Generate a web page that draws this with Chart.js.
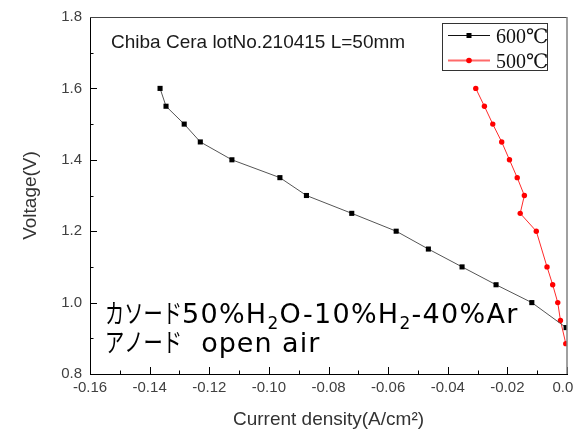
<!DOCTYPE html>
<html>
<head>
<meta charset="utf-8">
<script src="https://cdn.jsdelivr.net/npm/chart.js@4"></script>
<style>
  html, body { margin: 0; padding: 0; overflow: hidden; background: #fff; width: 573px; height: 434px; }
  #wrap { width: 600px; height: 434px; }
</style>
</head>
<body>
<div id="wrap"><canvas id="c" width="600" height="434"></canvas></div>
<script>
// ---- data ----
const current600 = [-0.1365, -0.1345, -0.1284, -0.1230, -0.1124, -0.0963, -0.0874, -0.0722, -0.0573, -0.0465, -0.0352, -0.0238, -0.0118, -0.0003];
const voltage600 = [1.60, 1.55, 1.50, 1.45, 1.40, 1.35, 1.30, 1.25, 1.20, 1.15, 1.10, 1.05, 1.00, 0.93];
const current500 = [-0.0306, -0.0277, -0.0249, -0.0219, -0.0193, -0.0167, -0.0143, -0.0157, -0.0103, -0.0067, -0.0048, -0.0031, -0.0022, -0.0004];
const voltage500 = [1.60, 1.55, 1.50, 1.45, 1.40, 1.35, 1.30, 1.25, 1.20, 1.10, 1.05, 1.00, 0.95, 0.885];
const seriesLabels = ['600℃', '500℃'];
const xTitle = 'Current density(A/cm²)';
const yTitle = 'Voltage(V)';
const noteTop = 'Chiba Cera lotNo.210415 L=50mm';

const SANS = "'Liberation Sans', Arial, sans-serif";
const LATIN = "'DejaVu Sans', Verdana, sans-serif";
const CJK = "'Noto Sans CJK JP', sans-serif";
const SERIF = "'Liberation Serif', 'DejaVu Serif', 'Noto Sans CJK JP', serif";

Chart.defaults.font.family = SANS;
Chart.defaults.color = '#404040';

function pts(xs, ys) { return xs.map((x, i) => ({ x: x, y: ys[i] })); }

// draw inward tick marks, top/right frame
const frame = {
  id: 'frame',
  afterDatasetsDraw(chart) {
    const { ctx, chartArea: a, scales: { x, y } } = chart;
    ctx.save();
    ctx.lineWidth = 1;
    ctx.strokeStyle = '#000';
    ctx.beginPath();
    x.ticks.forEach(t => {
      const px = Math.round(x.getPixelForValue(t.value)) + 0.5;
      const major = Math.round(t.value * 100) % 2 === 0;
      ctx.moveTo(px, a.bottom);
      ctx.lineTo(px, a.bottom - (major ? 7 : 3.5));
    });
    y.ticks.forEach(t => {
      const py = Math.round(y.getPixelForValue(t.value)) + 0.5;
      const major = Math.round(t.value * 10) % 2 === 0;
      ctx.moveTo(a.left, py);
      ctx.lineTo(a.left + (major ? 7 : 3.5), py);
    });
    ctx.stroke();
    // top & right frame
    ctx.strokeStyle = '#444';
    ctx.beginPath();
    ctx.moveTo(a.left, Math.round(a.top) + 0.5);
    ctx.lineTo(a.right, Math.round(a.top) + 0.5);
    ctx.stroke();
    ctx.strokeStyle = '#808080';
    ctx.lineWidth = 1.5;
    ctx.beginPath();
    ctx.moveTo(a.right, a.top);
    ctx.lineTo(a.right, a.bottom);
    ctx.stroke();
    ctx.restore();
  }
};

function drawRich(ctx, x, y, segs) {
  segs.forEach(s => {
    ctx.save();
    ctx.font = s.font;
    ctx.letterSpacing = s.ls || '0px';
    const w = ctx.measureText(s.t).width * (s.sx || 1);
    ctx.translate(x, y + (s.dy || 0));
    ctx.scale(s.sx || 1, 1);
    ctx.fillText(s.t, 0, 0);
    ctx.restore();
    x += w + (s.gap || 0);
  });
}

// annotations + legend
const notes = {
  id: 'notes',
  afterDraw(chart) {
    const { ctx } = chart;
    const ds = chart.data.datasets;
    ctx.save();
    ctx.textBaseline = 'alphabetic';
    ctx.textAlign = 'left';
    ctx.fillStyle = '#1a1a1a';
    ctx.font = '19px ' + SANS;
    ctx.fillText(noteTop, 111, 47.5);

    const L = '27px ' + LATIN, K = '26px ' + CJK, S = '17px ' + LATIN;
    const ls = '1.3px';
    ctx.fillStyle = '#000';
    drawRich(ctx, 105, 323, [
      { t: 'カソード', font: K, sx: 0.74 },
      { t: '50%H', font: L, ls: ls },
      { t: '2', font: S, dy: 6, ls: ls },
      { t: 'O-10%H', font: L, ls: ls },
      { t: '2', font: S, dy: 6, ls: ls },
      { t: '-40%Ar', font: L, ls: ls }
    ]);
    drawRich(ctx, 105, 352, [
      { t: 'アノード', font: K, sx: 0.74 },
      { t: '  open air', font: L, ls: '1px' }
    ]);

    // legend box
    ctx.strokeStyle = '#333';
    ctx.lineWidth = 1;
    ctx.strokeRect(442.5, 23.5, 105, 47);
    const rows = [35, 60];
    ds.forEach((d, i) => {
      const yy = rows[i];
      ctx.strokeStyle = d.legendLine;
      ctx.lineWidth = d.legendWidth;
      ctx.beginPath();
      ctx.moveTo(448, yy + 0.5);
      ctx.lineTo(490, yy + 0.5);
      ctx.stroke();
      ctx.fillStyle = d.backgroundColor;
      if (d.pointStyle === 'rect') {
        ctx.fillRect(466.5, yy - 2, 5, 5);
      } else {
        ctx.beginPath();
        ctx.arc(469, yy + 0.5, 2.8, 0, Math.PI * 2);
        ctx.fill();
      }
      ctx.fillStyle = '#111';
      ctx.font = '20px ' + SERIF;
      ctx.fillText(d.label, 496, yy + 7.5);
    });
    ctx.restore();
  }
};

new Chart(document.getElementById('c'), {
  type: 'scatter',
  data: {
    datasets: [
      {
        label: seriesLabels[0],
        data: pts(current600, voltage600),
        showLine: true,
        tension: 0,
        borderColor: '#555',
        borderWidth: 1,
        backgroundColor: '#000',
        pointBackgroundColor: '#000',
        pointBorderWidth: 0,
        pointStyle: 'rect',
        pointRadius: 3.6,
        legendLine: '#111',
        legendWidth: 1
      },
      {
        label: seriesLabels[1],
        data: pts(current500, voltage500),
        showLine: true,
        tension: 0,
        borderColor: '#ff2a2a',
        borderWidth: 1,
        backgroundColor: '#ff0000',
        pointBackgroundColor: '#ff0000',
        pointBorderWidth: 0,
        pointStyle: 'circle',
        pointRadius: 2.7,
        legendLine: '#ff6a6a',
        legendWidth: 2
      }
    ]
  },
  options: {
    responsive: false,
    animation: false,
    events: [],
    layout: { padding: { top: 14, right: 33, left: 0, bottom: 0 } },
    plugins: { legend: { display: false }, tooltip: { enabled: false } },
    scales: {
      x: {
        type: 'linear',
        min: -0.16,
        max: 0,
        grid: { display: false, drawTicks: false },
        border: { display: true, color: '#000', width: 1 },
        ticks: {
          stepSize: 0.01,
          autoSkip: false,
          maxRotation: 0,
          padding: 5,
          font: { size: 15 },
          color: '#404040',
          callback: v => (Math.round(v * 100) % 2 === 0 ? (Math.abs(v) < 1e-9 ? '0.00' : v.toFixed(2)) : '')
        },
        title: { display: true, text: xTitle, font: { size: 19 }, color: '#333', padding: { top: 0, bottom: 3 } },
        afterFit: s => { s.height = 60; }
      },
      y: {
        type: 'linear',
        min: 0.8,
        max: 1.8,
        grid: { display: false, drawTicks: false },
        border: { display: true, color: '#000', width: 1 },
        ticks: {
          stepSize: 0.1,
          autoSkip: false,
          padding: 8,
          font: { size: 15 },
          color: '#404040',
          callback: v => (Math.round(v * 10) % 2 === 0 ? v.toFixed(1) : '')
        },
        title: { display: true, text: yTitle, font: { size: 19 }, color: '#333', padding: { top: 19, bottom: 0 } },
        afterFit: s => { s.width = 90; }
      }
    }
  },
  plugins: [frame, notes]
});
</script>
</body>
</html>
